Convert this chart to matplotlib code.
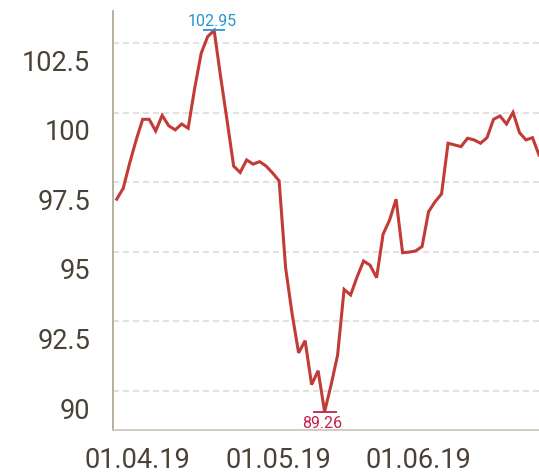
import matplotlib
import matplotlib.pyplot as plt
import matplotlib.transforms as mtransforms
import numpy as np

matplotlib.use('Agg')  # no display

# Closing values, one per trading day
values = [
    96.89, 97.28, 98.19, 99.02, 99.76, 99.76, 99.34, 99.90, 99.53, 99.38,
    99.59, 99.44, 100.87, 102.13, 102.73, 102.95, 101.28, 99.70, 98.08, 97.85,
    98.30, 98.15, 98.24, 98.08, 97.83, 97.55, 94.42, 92.77, 91.37, 91.81,
    90.23, 90.73, 89.26, 90.22, 91.29, 93.65, 93.45, 94.10, 94.67, 94.52,
    94.07, 95.63, 96.14, 96.89, 94.97, 94.99, 95.03, 95.19, 96.44, 96.80,
    97.08, 98.90, 98.84, 98.78, 99.08, 99.02, 98.90, 99.10, 99.76, 99.88,
    99.59, 100.01, 99.28, 99.02, 99.10, 98.48,
]
x_labels = ['01.04.19', '01.05.19', '01.06.19']
x_label_pos = [3.2, 24.9, 46.5]  # trading-day index of each date label
y_ticks = [90, 92.5, 95, 97.5, 100, 102.5]
y_tick_labels = ['90', '92.5', '95', '97.5', '100', '102.5']

LINE = '#c23b36'
TEXT = '#4a4236'
DPI = 100

plt.rcParams['font.family'] = ['Roboto', 'DejaVu Sans']
plt.rcParams['lines.scale_dashes'] = False

fig = plt.figure(figsize=(5.39, 4.74), dpi=DPI)
ax = fig.add_axes([113 / 539, 44 / 474, 426 / 539, 419 / 474])

x = np.arange(len(values))
y = np.array(values)
ax.plot(x, y, color=LINE, linewidth=2.2, solid_joinstyle='miter', zorder=3)

ax.set_xlim(-0.57, len(values) - 1)
ax.set_ylim(88.6, 103.65)

# Dashed horizontal grid
ax.set_yticks(y_ticks)
ax.set_yticklabels(y_tick_labels)
ax.grid(True, axis='y', color='#d9d9d9', linewidth=1.1, linestyle=(0, (4.3, 2.9)))
ax.set_axisbelow(True)

ax.set_xticks(x_label_pos)
ax.set_xticklabels(x_labels)

ax.tick_params(axis='both', length=0, labelsize=19.5, colors=TEXT)
ax.tick_params(axis='y', pad=16.5)
ax.tick_params(axis='x', pad=12)

# y labels sit a bit below their gridlines
shift = mtransforms.ScaledTranslation(0, -0.17, fig.dpi_scale_trans)
for lbl in ax.get_yticklabels():
    lbl.set_transform(lbl.get_transform() + shift)

for side in ['top', 'right']:
    ax.spines[side].set_visible(False)
ax.spines['left'].set_color('#b3a898')
ax.spines['left'].set_linewidth(1.3)
ax.spines['bottom'].set_color('#cfc8bd')
ax.spines['bottom'].set_linewidth(1.3)

# Max / min markers
i_max = int(np.argmax(y))
i_min = int(np.argmin(y))
ax.plot(i_max, y[i_max], marker='_', markersize=16.5, markeredgewidth=1.3,
        color='#2794cf', zorder=4)
ax.annotate(f'{y[i_max]:.2f}', (i_max, y[i_max]), xytext=(-1.5, 3.5),
            textcoords='offset points', ha='center', va='baseline',
            fontsize=11.5, color='#2794cf')
ax.plot(i_min, y[i_min], marker='_', markersize=17.5, markeredgewidth=1.3,
        color='#c4204d', zorder=4)
ax.annotate(f'{y[i_min]:.2f}', (i_min, y[i_min]), xytext=(-1.5, -3),
            textcoords='offset points', ha='center', va='top',
            fontsize=11.5, color='#c4204d')

fig.savefig('out.png', dpi=DPI)
